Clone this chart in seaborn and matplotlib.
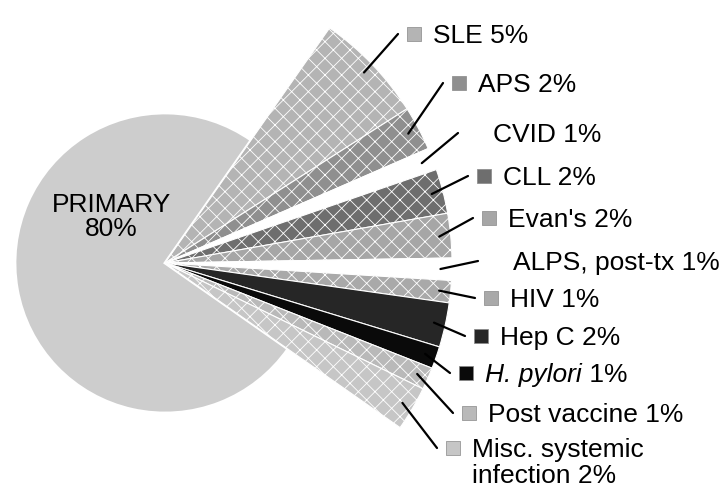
import numpy as np
import matplotlib
matplotlib.use('Agg')
import matplotlib.pyplot as plt
import seaborn as sns

# data
primary_label = 'PRIMARY'
primary_pct = 80
secondary_labels = ['SLE', 'APS', 'CVID', 'CLL', "Evan's", 'ALPS, post-tx', 'HIV', 'Hep C',
                    'H. pylori', 'Post vaccine', 'Misc. systemic\ninfection']
secondary_pct = [5, 2, 1, 2, 2, 1, 1, 2, 1, 1, 2]
italic_labels = ['H. pylori']

# styles
primary_color = '#cdcdcd'
secondary_colors = ['#b4b4b4', '#8f8f8f', '#ffffff', '#6e6e6e', '#a6a6a6', '#ffffff',
                    '#a9a9a9', '#262626', '#0a0a0a', '#b9b9b9', '#c6c6c6']
secondary_hatch = ['xx', 'xx', '', 'xx', 'xx', '', 'xx', '', '', 'xx', 'xx']

# layout (pixels, origin top-left); pie centre
cx_px, cy_px = 165, 263
r_primary = 150
r_secondary = 287
sec_start = 55          # degrees, top edge of SLE
sec_span = 90           # degrees used by the secondary causes
label_x_px = [433, 478, 493, 503, 508, 513, 510, 500, 485, 488, 472]
label_y_px = [43, 92, 142, 185, 227, 270, 307, 345, 382, 422, 457]
line_step = 26

sns.set_theme(style='white')
plt.rcParams['font.family'] = ['Liberation Sans', 'DejaVu Sans']
plt.rcParams['hatch.color'] = '#ffffff'
plt.rcParams['hatch.linewidth'] = 0.6

fig = plt.figure(figsize=(7.27, 4.95), dpi=100)
ax = fig.add_axes([0, 0, 1, 1])

# primary slice: the remaining part of the circle
total_sec = sum(secondary_pct)
w_prim, _ = ax.pie([(360 - sec_span) / 360], normalize=False, startangle=sec_start,
                   counterclock=True, radius=r_primary, colors=[primary_color],
                   wedgeprops=dict(edgecolor='white', linewidth=2))

# secondary slices, spread over sec_span degrees
fracs = [v / total_sec * sec_span / 360 for v in secondary_pct]
w_sec, _ = ax.pie(fracs, normalize=False, startangle=sec_start, counterclock=False,
                  radius=r_secondary, colors=secondary_colors,
                  wedgeprops=dict(edgecolor='white', linewidth=0.8))
for w, h in zip(w_sec, secondary_hatch):
    w.set_hatch(h)

def px(x, y):
    return x - cx_px, cy_px - y

ax.text(*px(111, 217), f'{primary_label}\n{primary_pct}%', ha='center', va='center',
        fontsize=19, linespacing=1.0, color='black')

for w, lab, pct, col, lx, ly in zip(w_sec, secondary_labels, secondary_pct,
                                    secondary_colors, label_x_px, label_y_px):
    mid = np.deg2rad((w.theta1 + w.theta2) / 2)
    r0 = r_secondary * 0.96
    x0, y0 = r0 * np.cos(mid), r0 * np.sin(mid)
    x1, y1 = px(lx - 35, ly - 9)
    ax.plot([x0, x1], [y0, y1], color='black', lw=1.6, solid_capstyle='round')
    if col != '#ffffff':
        ax.scatter(*px(lx - 19, ly - 9), s=110, marker='s', color=col,
                   edgecolor='#888888', linewidth=0.5, zorder=3)
    if lab in italic_labels:
        t = ax.text(*px(lx, ly), lab, ha='left', va='baseline', fontsize=19,
                    fontstyle='italic', color='black')
        ax.annotate(f' {pct}%', xy=(1, 0), xycoords=t, ha='left', va='bottom',
                    fontsize=19, color='black')
        continue
    lines = f'{lab} {pct}%'.split('\n')
    for i, s in enumerate(lines):
        ax.text(*px(lx, ly + i * line_step), s, ha='left', va='baseline',
                fontsize=19, color='black')

ax.set_xlim(-cx_px, 727 - cx_px)
ax.set_ylim(cy_px - 495, cy_px)
ax.set_aspect('equal')
ax.axis('off')

fig.savefig('out.png', dpi=100, facecolor='white')
